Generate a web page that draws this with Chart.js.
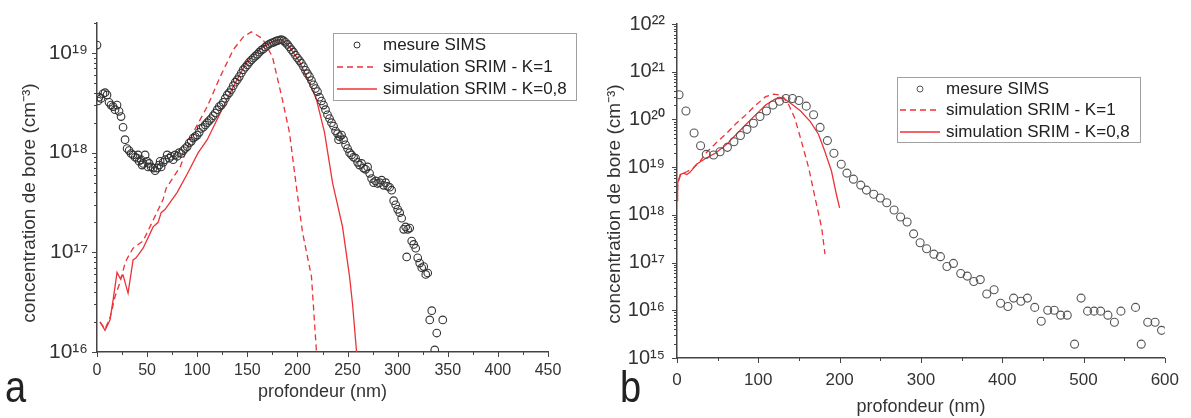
<!DOCTYPE html>
<html>
<head>
<meta charset="utf-8">
<script src="https://cdn.jsdelivr.net/npm/chart.js@4.4.1/dist/chart.umd.min.js"></script>
<style>
  html, body { margin: 0; padding: 0; background: #fff; }
  #wrap { position: relative; width: 1191px; height: 418px; overflow: hidden; }
  .panel { position: absolute; top: 0; height: 418px; }
  #pa { left: 0; width: 590px; }
  #pb { left: 590px; width: 601px; }
  .tag { position: absolute; font-family: 'Liberation Sans', Arial, sans-serif; font-size: 38px; line-height: 1;
         color: #222; transform: scaleY(1.15); transform-origin: left bottom; }
</style>
</head>
<body>
<div id="wrap">
  <div class="panel" id="pa"><canvas id="chartA"></canvas></div>
  <div class="panel" id="pb"><canvas id="chartB"></canvas></div>
  <div class="tag" style="left:5px; bottom:9px;">a</div>
  <div class="tag" style="left:620px; bottom:9px;">b</div>
</div>
<script>
// ---- donnees ----
const labelsSeries = ['mesure SIMS', 'simulation SRIM - K=1', 'simulation SRIM - K=0,8']
const titreX = 'profondeur (nm)'
const titreY = 'concentration de bore (cm⁻³)'

// panneau a
const decadesA = [16, 17, 18, 19]
const simsProfA = [0, 1, 2, 4, 6, 8, 10, 12, 14, 16, 18, 20, 22, 24, 26, 28, 30, 32, 34, 36, 38, 40, 41, 42, 44, 45, 46, 48, 50, 51,
  52, 54, 56, 58, 60, 62, 63, 64, 66, 68, 70, 72, 74, 76, 78, 80, 82, 84, 86, 88, 90, 92, 94, 96, 98, 100, 102, 104, 106, 108,
  110, 112, 114, 116, 118, 120, 122, 124, 126, 128, 130, 132, 134, 136, 138, 140, 142, 144, 146, 148, 150, 152, 154, 156, 158,
  160, 162, 164, 166, 168, 170, 172, 174, 176, 178, 180, 182, 184, 186, 188, 190, 192, 194, 196, 198, 200, 202, 204, 206, 208,
  210, 212, 214, 216, 218, 220, 222, 224, 226, 228, 230, 232, 234, 236, 238, 240, 241, 242, 244, 246, 248, 250, 252, 254, 256,
  258, 260, 262, 264, 266, 268, 270, 272, 274, 276, 278, 280, 282, 284, 286, 288, 290, 292, 294, 296, 298, 300, 302, 304, 306,
  308, 309, 310, 312, 314, 316, 318, 320, 322, 324, 326, 328, 330, 332, 334, 337, 339, 345]
const simsConcA = [1.2e19, 3.3e18, 3.6e18, 3.5e18, 3.9e18, 4.0e18, 3.8e18, 3.2e18, 3.0e18, 2.9e18, 2.7e18, 3.0e18, 2.6e18, 2.3e18, 1.8e18, 1.35e18, 1.1e18, 1.05e18, 0.98e18, 0.95e18, 0.9e18, 0.88e18, 0.95e18, 0.82e18, 0.85e18, 0.75e18, 0.78e18, 0.95e18, 0.82e18, 0.72e18,
  0.78e18, 0.72e18, 0.7e18, 0.66e18, 0.7e18, 0.75e18, 0.82e18, 0.72e18, 0.8e18, 0.85e18, 0.95e18, 0.88e18, 0.92e18, 0.85e18, 0.95e18, 0.92e18, 1.0e18, 0.98e18, 1.05e18, 1.1e18, 1.15e18, 1.25e18, 1.3e18, 1.4e18, 1.45e18, 1.5e18, 1.6e18, 1.75e18, 1.8e18, 1.9e18,
  2.0e18, 2.1e18, 2.2e18, 2.35e18, 2.5e18, 2.7e18, 2.9e18, 3.0e18, 3.2e18, 3.5e18, 3.8e18, 4.0e18, 4.3e18, 4.7e18, 5.1e18, 5.4e18, 5.8e18, 6.3e18, 6.8e18, 7.2e18, 7.6e18, 8.1e18, 8.5e18, 8.9e18, 9.3e18,
  9.7e18, 1.02e19, 1.07e19, 1.1e19, 1.15e19, 1.19e19, 1.23e19, 1.26e19, 1.28e19, 1.31e19, 1.33e19, 1.35e19, 1.36e19, 1.33e19, 1.28e19, 1.22e19, 1.15e19, 1.08e19, 1.02e19, 9.5e18, 8.9e18, 8.4e18, 7.9e18, 7.3e18, 6.7e18,
  6.2e18, 5.8e18, 5.3e18, 4.8e18, 4.4e18, 4.1e18, 3.6e18, 3.3e18, 3.0e18, 2.7e18, 2.4e18, 2.2e18, 2.0e18, 1.85e18, 1.65e18, 1.55e18, 1.35e18, 1.45e18, 1.5e18, 1.35e18, 1.2e18, 1.1e18, 1.0e18, 0.95e18, 0.9e18,
  0.88e18, 0.8e18, 0.75e18, 0.78e18, 0.7e18, 0.68e18, 0.72e18, 0.62e18, 0.55e18, 0.5e18, 0.52e18, 0.49e18, 0.5e18, 0.53e18, 0.47e18, 0.5e18, 0.46e18, 0.45e18, 0.42e18, 0.33e18, 0.3e18, 0.27e18, 0.25e18, 0.22e18, 0.17e18,
  0.18e18, 0.09e18, 0.17e18, 0.175e18, 0.13e18, 0.12e18, 0.11e18, 0.088e18, 0.078e18, 0.07e18, 0.072e18, 0.06e18, 0.062e18, 2.1e16, 2.6e16, 1.05e16, 1.55e16, 2.1e16]
const k1ProfA = [3, 8, 13, 18, 23, 28, 31, 36, 46, 56, 66, 69, 83, 96, 110, 123, 136, 146, 154, 165, 175, 185, 192, 199, 205, 214, 219]
const k1ConcA = [2e16, 1.7e16, 2.2e16, 3.6e16, 5e16, 7.8e16, 9e16, 1.1e17, 1.3e17, 2.1e17, 3.4e17, 4.4e17, 7.2e17, 1.6e18, 2.9e18, 5.8e18, 1.08e19, 1.45e19, 1.63e19, 1.4e19, 9.2e18, 3.4e18, 1.6e18, 4.5e17, 1.6e17, 5.7e16, 1e16]
const k08ProfA = [3, 8, 13, 16, 20, 23, 26, 31, 36, 39, 46, 56, 61, 64, 68, 80, 90, 101, 110, 123, 136, 149, 162, 175, 184, 192, 202, 212, 219, 227, 235, 245, 252, 255, 259]
const k08ConcA = [2e16, 1.65e16, 2.1e16, 3.3e16, 6.3e16, 5.5e16, 5.9e16, 3.9e16, 8.4e16, 8.8e16, 1.1e17, 1.8e17, 2.0e17, 2.5e17, 2.7e17, 4e17, 6.1e17, 1e18, 1.35e18, 2.5e18, 4.6e18, 8e18, 1.08e19, 1.3e19, 1.37e19, 1.15e19, 8.2e18, 5e18, 3.4e18, 1.6e18, 5e17, 1.8e17, 5.7e16, 3e16, 1e16]

// panneau b
const decadesB = [15, 16, 17, 18, 19, 20, 21, 22]
const simsProfB = [2.5, 11, 21, 29, 36, 45, 53, 62, 70, 78, 86, 94, 102, 110, 118, 126, 134, 142, 150, 159, 168, 176, 185, 193, 202, 209, 217, 226, 233, 242,
  250, 258, 267, 275, 283, 291, 299, 307, 316, 324, 332, 340, 349, 357, 365, 373, 381, 390, 398, 407, 414, 423, 431, 440, 448, 456, 464, 472, 480, 489,
  497, 505, 513, 521, 530, 538, 546, 564, 571, 579, 588, 596]
const simsConcB = [3.3e20, 1.5e20, 5.2e19, 2.8e19, 1.85e19, 1.8e19, 2.1e19, 2.6e19, 3.4e19, 4.6e19, 6.2e19, 8.3e19, 1.15e20, 1.5e20, 2.0e20, 2.4e20, 2.75e20, 2.75e20, 2.5e20, 1.9e20, 1.25e20, 6.8e19, 3.6e19, 1.95e19, 1.15e19, 7.5e18, 5.6e18, 4.2e18, 3.3e18, 2.7e18,
  2.25e18, 1.8e18, 1.26e18, 9e17, 7.1e17, 4e17, 2.6e17, 1.95e17, 1.5e17, 1.33e17, 8.3e16, 9.6e16, 5.9e16, 5.2e16, 4e16, 4.4e16, 2.2e16, 2.7e16, 1.4e16, 1.2e16, 1.8e16, 1.55e16, 1.8e16, 1.15e16, 5.9e15, 1e16, 1e16, 7.9e15, 7.9e15, 1.95e15,
  1.8e16, 9.6e15, 9.6e15, 9.6e15, 7.9e15, 5.6e15, 9.6e15, 1.15e16, 1.95e15, 5.6e15, 5.6e15, 3.8e15]
const k1ProfB = [0, 1, 4.5, 12, 20, 28, 36, 48, 61, 73, 85, 97, 109, 119, 129, 137, 145, 153, 162, 170, 178, 182]
const k1ConcB = [2e18, 4.6e18, 7e18, 8e18, 9.6e18, 1.3e19, 2e19, 3.2e19, 5.1e19, 8.3e19, 1.26e20, 2e20, 3e20, 3.4e20, 3.2e20, 2.1e20, 1.05e20, 3.5e19, 9.6e18, 2.2e18, 5.3e17, 1.5e17]
const k08ProfB = [0, 0.5, 1, 4, 8, 12, 16, 24, 36, 48, 61, 73, 85, 97, 109, 121, 131, 141, 152, 164, 174, 182, 190, 196, 200]
const k08ConcB = [2e18, 3.8e18, 4.6e18, 7e18, 7.5e18, 7e18, 7.8e18, 1.15e19, 1.55e19, 2e19, 3e19, 4.9e19, 7.9e19, 1.26e20, 2e20, 2.7e20, 2.8e20, 2.1e20, 1.5e20, 9e19, 4.9e19, 2.1e19, 8.3e18, 2.7e18, 1.4e18]

// ---- styles ----
const rouge = '#ec3237'
const gris = '#333'
const police = "'Liberation Sans', Arial, sans-serif"
Chart.defaults.font.family = police
Chart.defaults.color = gris

const sup = n => String(n).split('').map(c => '⁰¹²³⁴⁵⁶⁷⁸⁹'[+c]).join('')
const pts = (xs, ys) => xs.map((x, i) => ({ x: x, y: ys[i] }))
const isDecade = v => Math.abs(Math.log10(v) - Math.round(Math.log10(v))) < 1e-9

// petites/grandes graduations dessinees a partir des echelles
const graduations = {
  id: 'graduations',
  afterDraw(chart, args, opts) {
    const { ctx, chartArea } = chart
    const sx = chart.scales.x, sy = chart.scales.y
    ctx.save()
    ctx.strokeStyle = '#444'
    ctx.lineWidth = 1
    ctx.beginPath()
    sx.ticks.forEach(t => {
      const px = Math.round(sx.getPixelForValue(t.value)) + 0.5
      const len = t.value % opts.xMajor === 0 ? 5 : 3
      ctx.moveTo(px, chartArea.bottom)
      ctx.lineTo(px, chartArea.bottom + len)
    })
    sy.ticks.forEach(t => {
      const py = Math.round(sy.getPixelForValue(t.value)) + 0.5
      const len = isDecade(t.value) ? 5 : 3
      ctx.moveTo(chartArea.left, py)
      ctx.lineTo(chartArea.left - len, py)
    })
    ctx.stroke()
    ctx.restore()
  }
}

// titre vertical place comme sur la figure (un peu sous le centre de l'axe)
const titreVertical = {
  id: 'titreVertical',
  afterDraw(chart, args, o) {
    const ctx = chart.ctx
    ctx.save()
    ctx.translate(o.cx, o.cy)
    ctx.rotate(-Math.PI / 2)
    ctx.font = o.size + 'px ' + police
    ctx.fillStyle = gris
    ctx.textAlign = 'center'
    ctx.textBaseline = 'middle'
    ctx.fillText(titreY, 0, 0)
    ctx.restore()
  }
}

// legende encadree dans la zone du graphe
const legendeCadre = {
  id: 'legendeCadre',
  afterDraw(chart, args, o) {
    const ctx = chart.ctx
    ctx.save()
    ctx.fillStyle = '#fff'
    ctx.fillRect(o.left, o.top, o.width, o.height)
    ctx.strokeStyle = '#a0a0a0'
    ctx.lineWidth = 1
    ctx.strokeRect(o.left + 0.5, o.top + 0.5, o.width, o.height)
    ctx.font = '17px ' + police
    ctx.textBaseline = 'middle'
    chart.data.datasets.forEach((ds, i) => {
      const cy = o.top + o.rows[i]
      ctx.strokeStyle = ds.borderColor
      if (ds.showLine) {
        ctx.lineWidth = 1.3
        ctx.setLineDash(ds.borderDash || [])
        ctx.beginPath()
        ctx.moveTo(o.lineFrom, cy)
        ctx.lineTo(o.lineTo, cy)
        ctx.stroke()
        ctx.setLineDash([])
      } else {
        ctx.lineWidth = 1
        ctx.beginPath()
        ctx.arc((o.lineFrom + o.lineTo) / 2, cy, 3, 0, Math.PI * 2)
        ctx.stroke()
      }
      ctx.fillStyle = '#222'
      ctx.fillText(ds.label, o.textX, cy)
    })
    ctx.restore()
  }
}

function panneau(canvasId, p) {
  const datasets = [
    {
      label: labelsSeries[0], data: pts(p.simsX, p.simsY), showLine: false,
      pointRadius: p.r, pointBorderWidth: 1.1, pointBorderColor: p.pointColor, borderColor: p.pointColor,
      pointBackgroundColor: 'rgba(255,255,255,0)'
    },
    {
      label: labelsSeries[1], data: pts(p.k1X, p.k1Y), showLine: true, borderColor: rouge,
      borderWidth: 1.3, borderDash: [6, 4], pointRadius: 0, tension: 0
    },
    {
      label: labelsSeries[2], data: pts(p.k08X, p.k08Y), showLine: true, borderColor: rouge,
      borderWidth: 1.3, pointRadius: 0, tension: 0
    }
  ]
  const yMin = p.yMin, yMax = p.yMax
  return new Chart(document.getElementById(canvasId), {
    type: 'scatter',
    data: { datasets: datasets },
    options: {
      responsive: true,
      maintainAspectRatio: false,
      animation: false,
      events: [],
      layout: { padding: p.padding },
      scales: {
        x: {
          type: 'linear', min: 0, max: p.xMax,
          grid: { display: false, drawTicks: false },
          border: { display: true, color: '#444', width: 1.5 },
          ticks: {
            stepSize: p.xMinor, autoSkip: false, maxRotation: 0, padding: p.xPad,
            font: { size: p.xFont }, color: gris,
            callback: v => v % p.xMajor === 0 ? v : ''
          },
          title: { display: true, text: titreX, font: { size: 18 }, color: gris, padding: { top: 0, bottom: 0 } },
          afterFit: s => { s.height = p.xAxisH }
        },
        y: {
          type: 'logarithmic', min: yMin, max: yMax,
          grid: { display: false, drawTicks: false },
          border: { display: true, color: '#444', width: 1.5 },
          afterBuildTicks: s => {
            const t = []
            p.decades.forEach(e => {
              for (let m = 1; m <= 9; m++) {
                const v = m * Math.pow(10, e)
                if (v >= yMin * 0.999 && v <= yMax * 1.001) t.push({ value: v })
              }
            })
            s.ticks = t
          },
          ticks: {
            autoSkip: false, padding: p.yPad, color: gris, font: { size: p.yFont },
            callback: v => isDecade(v) ? '10' + sup(Math.round(Math.log10(v))) : ''
          },
          afterFit: s => { s.width = p.yAxisW }
        }
      },
      plugins: {
        legend: { display: false },
        tooltip: { enabled: false },
        graduations: { xMajor: p.xMajor },
        titreVertical: p.titre,
        legendeCadre: p.legende
      }
    },
    plugins: [graduations, titreVertical, legendeCadre]
  })
}

panneau('chartA', {
  simsX: simsProfA, simsY: simsConcA, k1X: k1ProfA, k1Y: k1ConcA, k08X: k08ProfA, k08Y: k08ConcA,
  decades: decadesA, yMin: 1e16, yMax: 2e19, xMax: 450, xMinor: 25, xMajor: 50,
  r: 3.8, pointColor: '#333', xFont: 16, yFont: 21, xPad: 9, yPad: 9,
  padding: { left: 0, right: 42, top: 23, bottom: 15 }, xAxisH: 51, yAxisW: 97,
  titre: { cx: 30, cy: 203, size: 19 },
  legende: { left: 333, top: 33, width: 243, height: 67, rows: [12, 34, 56], lineFrom: 337, lineTo: 377, textX: 383 }
})

panneau('chartB', {
  simsX: simsProfB, simsY: simsConcB, k1X: k1ProfB, k1Y: k1ConcB, k08X: k08ProfB, k08Y: k08ConcB,
  decades: decadesB, yMin: 1e15, yMax: 1e22, xMax: 600, xMinor: 50, xMajor: 100,
  r: 4, pointColor: '#555', xFont: 17, yFont: 20, xPad: 12, yPad: 12,
  padding: { left: 0, right: 20, top: 22, bottom: 0 }, xAxisH: 60, yAxisW: 87,
  titre: { cx: 25, cy: 204, size: 19 },
  legende: { left: 307, top: 77, width: 243, height: 65, rows: [12, 33, 55], lineFrom: 310, lineTo: 350, textX: 356 }
})
</script>
</body>
</html>
